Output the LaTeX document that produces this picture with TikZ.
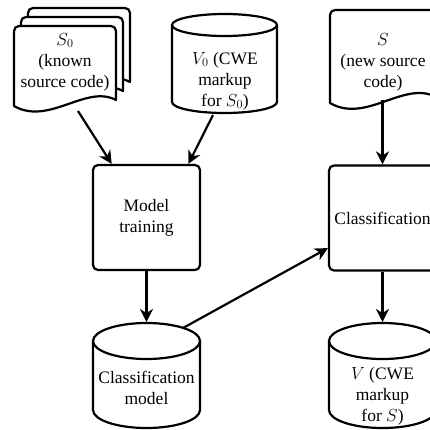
\RequirePackage{fix-cm}
\documentclass[tikz,border=0pt]{standalone}
\usepackage{fontspec}
\setmainfont{Liberation Serif}
\usetikzlibrary{arrows.meta}
\begin{document}
\begin{tikzpicture}[x=1pt,y=-1pt,
  line width=2.2pt,
  lbl/.style={align=center, font=\fontsize{17.5pt}{21pt}\selectfont, inner sep=0pt},
  proc/.style={draw, rounded corners=5pt, minimum width=107pt, minimum height=105pt, inner sep=0pt, lbl},
  arr/.style={-{Stealth[length=13pt,width=13pt,inset=4pt]}},
  shp/.style={draw, line join=round, fill=white}]
\useasboundingbox (0,0) rectangle (430,429);
\clip (0,0) rectangle (430,429);
% stacked documents S0
\foreach \dx/\dy in {14/-18, 7/-9, 0/0}{
  \begin{scope}[shift={(14+\dx,26+\dy)}]
    \draw[shp] (0,80) -- (0,5) arc[start angle=180,end angle=90,radius=5pt]
      -- (97,0) arc[start angle=90,end angle=0,radius=5pt]
      -- (102,74) .. controls (72,58) and (35,100) .. (0,80) -- cycle;
  \end{scope}
}
% document S
\begin{scope}[shift={(330,10)}]
  \draw[shp] (0,93) -- (0,5) arc[start angle=180,end angle=90,radius=5pt]
    -- (101,0) arc[start angle=90,end angle=0,radius=5pt]
    -- (106,87) .. controls (74,70) and (36,114) .. (0,93) -- cycle;
\end{scope}
% cylinder V0
\draw[shp] (172,25) -- (172,102) arc[start angle=180,end angle=360,x radius=52.5pt,y radius=11pt] -- (277,25);
\draw (224.5,25) ellipse[x radius=52.5pt,y radius=11pt];
% cylinder classification model
\draw[shp] (93,341) -- (93,410) arc[start angle=180,end angle=360,x radius=53.5pt,y radius=18pt] -- (200,341);
\draw (146.5,341) ellipse[x radius=53.5pt,y radius=18pt];
% cylinder V
\draw[shp] (329,341) -- (329,410) arc[start angle=180,end angle=360,x radius=53.5pt,y radius=18pt] -- (436,341);
\draw (382.5,341) ellipse[x radius=53.5pt,y radius=18pt];
% texts
\node[lbl] (s0) at (65,62) {$S_0$\\(known\\source code)};
\node[lbl] (v0) at (225,81) {$V_0$ (CWE\\markup\\for $S_0$)};
\node[lbl] (s) at (383,62) {$S$\\(new source\\code)};
\node[proc] (train) at (146.5,217.5) {Model\\training};
\node[proc] (cls) at (382.5,218) {Classification};
\node[lbl] (cm) at (146.5,388) {Classification\\model};
\node[lbl] (v) at (382.5,396) {$V$ (CWE\\markup\\for $S$)};
% connectors
\coordinate (s0out) at (78,111);
\coordinate (v0out) at (213,115);
\coordinate (cmin) at (146.5,322);
\coordinate (cmout) at (183,328);
\coordinate (sout) at (382.5,100);
\coordinate (vin) at (382.5,322);
\draw[arr] (s0out) -- (train.123);
\draw[arr] (v0out) -- (train.52);
\draw[arr] (train) -- (cmin);
\draw[arr] (cmout) -- (cls);
\draw[arr] (sout) -- (cls);
\draw[arr] (cls) -- (vin);
\end{tikzpicture}
\end{document}
